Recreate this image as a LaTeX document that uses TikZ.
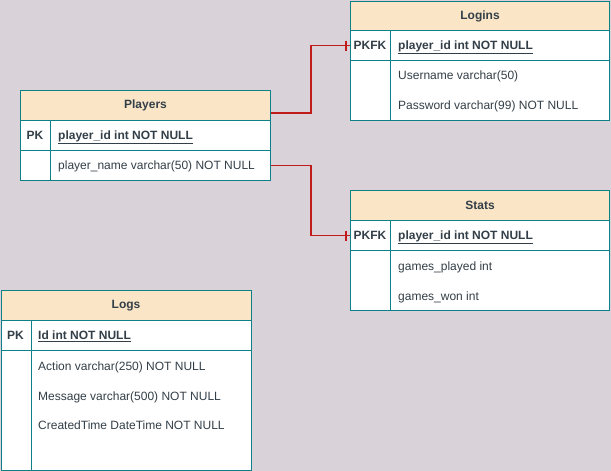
\documentclass[tikz,border=0pt]{standalone}
\usepackage{fontspec}
\setmainfont{Liberation Sans}
\usetikzlibrary{calc}
\definecolor{bgc}{HTML}{DAD2D9}
\definecolor{hdrc}{HTML}{FAE5C7}
\definecolor{tbc}{HTML}{0E8088}
\definecolor{txc}{HTML}{333F48}
\definecolor{relc}{HTML}{C01C1C}
\begin{document}
\begin{tikzpicture}[x=1pt,y=-1pt,
  box/.style={draw=tbc, line width=1pt, fill=white, anchor=north west, inner sep=0pt, minimum width=#1},
  hdrbox/.style={box=#1, fill=hdrc, minimum height=30pt, text=txc, font=\fontsize{12}{14}\selectfont\bfseries},
  lbl/.style={anchor=base west, inner sep=0pt, text=txc, font=\fontsize{12}{14}\selectfont},
  keylbl/.style={anchor=base, inner sep=0pt, text=txc, font=\fontsize{12}{14}\selectfont\bfseries},
  rel/.style={draw=relc, line width=1.1pt}]
\fill[bgc] (0,0) rectangle (611,471);
\useasboundingbox (0,0) rectangle (611,471);
% Players
\node[hdrbox=250pt] (ph) at (20,90) {Players};
\node[box=30pt, minimum height=30pt] (pkc) at (20,120) {};
\node[box=220pt, minimum height=30pt] (pkf) at (50,120) {};
\node[box=30pt, minimum height=30pt] (pbc) at (20,150) {};
\node[box=220pt, minimum height=30pt] (pbf) at (50,150) {};
\node[keylbl] (pkt) at (35,139.5) {PK};
\node[lbl, font=\fontsize{12}{14}\selectfont\bfseries] (pkn) at (58,139.5) {\underline{player\_id int NOT NULL}};
\node[lbl] (pf1) at (58,169.5) {player\_name varchar(50) NOT NULL};
% Logins
\node[hdrbox=259pt] (lh) at (350,0.5) {Logins};
\node[box=40pt, minimum height=30pt] (lkc) at (350,30) {};
\node[box=219pt, minimum height=30pt] (lkf) at (390,30) {};
\node[box=40pt, minimum height=60pt] (lbc) at (350,60) {};
\node[box=219pt, minimum height=60pt] (lbf) at (390,60) {};
\node[keylbl] (lkt) at (370,49.5) {PKFK};
\node[lbl, font=\fontsize{12}{14}\selectfont\bfseries] (lkn) at (398,49.5) {\underline{player\_id int NOT NULL}};
\node[lbl] (lf1) at (398,79.5) {Username varchar(50)};
\node[lbl] (lf2) at (398,109.5) {Password varchar(99) NOT NULL};
% Stats
\node[hdrbox=259pt] (sh) at (350,190) {Stats};
\node[box=40pt, minimum height=30pt] (skc) at (350,220) {};
\node[box=219pt, minimum height=30pt] (skf) at (390,220) {};
\node[box=40pt, minimum height=60pt] (sbc) at (350,250) {};
\node[box=219pt, minimum height=60pt] (sbf) at (390,250) {};
\node[keylbl] (skt) at (370,239.5) {PKFK};
\node[lbl, font=\fontsize{12}{14}\selectfont\bfseries] (skn) at (398,239.5) {\underline{player\_id int NOT NULL}};
\node[lbl] (sf1) at (398,270) {games\_played int};
\node[lbl] (sf2) at (398,300) {games\_won int};
% Logs
\node[hdrbox=250pt] (gh) at (0.5,290) {Logs};
\node[box=30pt, minimum height=30pt] (gkc) at (0.5,320) {};
\node[box=220pt, minimum height=30pt] (gkf) at (30.5,320) {};
\node[box=30pt, minimum height=120pt] (gbc) at (0.5,350) {};
\node[box=220pt, minimum height=120pt] (gbf) at (30.5,350) {};
\node[keylbl] (gkt) at (15.5,339.5) {PK};
\node[lbl, font=\fontsize{12}{14}\selectfont\bfseries] (gkn) at (38,339.5) {\underline{Id int NOT NULL}};
\node[lbl] (gf1) at (38,370) {Action varchar(250) NOT NULL};
\node[lbl] (gf2) at (38,400) {Message varchar(500) NOT NULL};
\node[lbl] (gf3) at (38,429.5) {CreatedTime DateTime NOT NULL};
% Relations
\coordinate (p1) at ($(ph.north east)+(0,23)$);
\draw[rel] (p1) -- ++(40,0) |- (lkc.west);
\draw[rel] (pbf.east) -- ++(40,0) |- (skc.west);
\draw[rel] ($(lkc.west)+(-4,-5)$) -- ($(lkc.west)+(-4,5)$);
\draw[rel] ($(skc.west)+(-4,-5)$) -- ($(skc.west)+(-4,5)$);
\end{tikzpicture}
\end{document}
